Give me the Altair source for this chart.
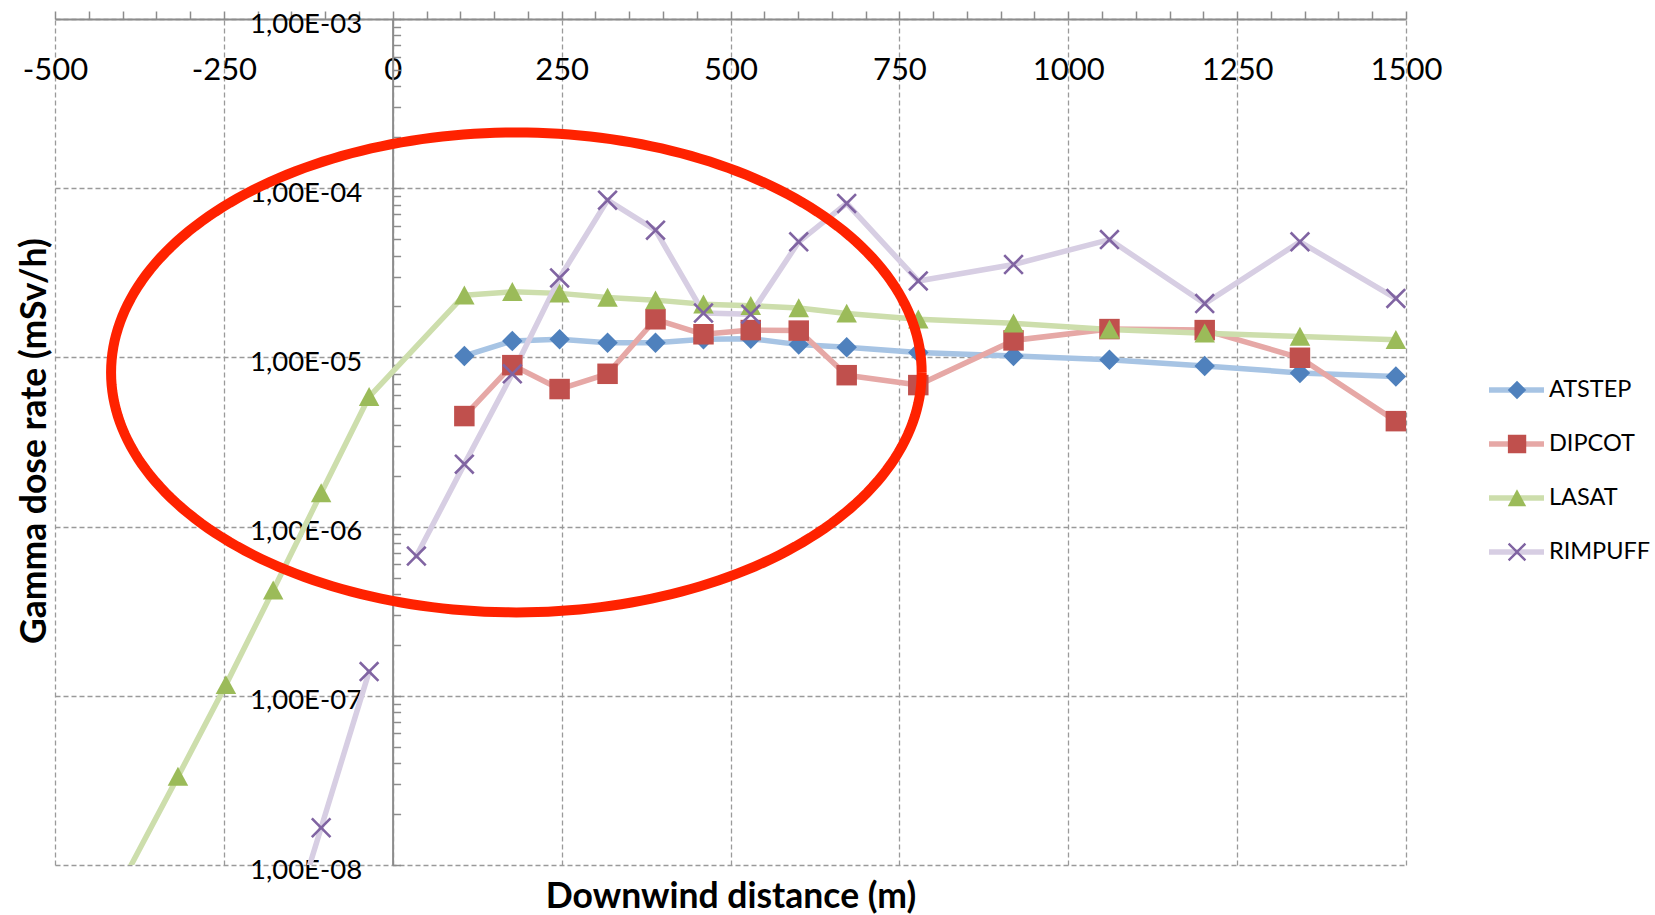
import altair as alt
import pandas as pd
import numpy as np

# ---------------- data ----------------
SERIES = ["ATSTEP", "DIPCOT", "LASAT", "RIMPUFF"]
MARKER_COLORS = ["#4F81BD", "#C0504D", "#9BBB59", "#8064A2"]
LINE_COLORS = ["#A7C4E4", "#E6A8A6", "#CDDEAC", "#D7CEE3"]
LINE_WIDTHS = [5.5, 5.5, 5.5, 7]
MARKER_SIZES = [420, 420, 480, 420]

ATSTEP_X = [106, 177, 247, 318, 389, 460, 530, 601, 672, 778, 919, 1061, 1202, 1343, 1485]
ATSTEP_Y = [1.02e-5, 1.25e-5, 1.28e-5, 1.22e-5, 1.22e-5, 1.28e-5, 1.29e-5, 1.19e-5,
            1.15e-5, 1.07e-5, 1.02e-5, 9.7e-6, 8.9e-6, 8.1e-6, 7.7e-6]

DIPCOT_X = [106, 177, 247, 318, 389, 460, 530, 601, 672, 778, 919, 1061, 1202, 1343, 1485]
DIPCOT_Y = [4.5e-6, 9.0e-6, 6.5e-6, 8.0e-6, 1.68e-5, 1.37e-5, 1.45e-5, 1.44e-5,
            7.85e-6, 6.86e-6, 1.26e-5, 1.47e-5, 1.45e-5, 9.95e-6, 4.2e-6]

LASAT_X = [-389, -318, -247, -177, -106, -35, 106, 177, 247, 318, 389, 460, 530, 601,
           672, 778, 919, 1061, 1202, 1343, 1485]
LASAT_Y = [9.7e-9, 3.33e-8, 1.16e-7, 4.21e-7, 1.58e-6, 5.85e-6, 2.33e-5, 2.44e-5, 2.39e-5,
           2.26e-5, 2.18e-5, 2.06e-5, 2.02e-5, 1.96e-5, 1.82e-5, 1.68e-5, 1.59e-5, 1.46e-5,
           1.39e-5, 1.33e-5, 1.27e-5]

RIMPUFF_X = [-177, -106, -35, 35, 106, 177, 247, 318, 389, 460, 530, 601, 672, 778, 919,
             1061, 1202, 1343, 1485]
RIMPUFF_Y = [2.0e-9, 1.66e-8, 1.39e-7, 6.7e-7, 2.34e-6, 8.0e-6, 2.95e-5, 8.5e-5, 5.65e-5,
             1.83e-5, 1.80e-5, 4.82e-5, 8.13e-5, 2.83e-5, 3.54e-5, 4.97e-5, 2.08e-5,
             4.82e-5, 2.23e-5]
RIMPUFF_PART = [0, 0, 0] + [1] * 16   # the line is broken between -35 m and 35 m

X_MAJOR = [-500, -250, 0, 250, 500, 750, 1000, 1250, 1500]
X_MINOR = list(range(-500, 1501, 50))
Y_MAJOR = [1e-8, 1e-7, 1e-6, 1e-5, 1e-4, 1e-3]
Y_MINOR = [m * 10.0 ** e for e in range(-8, -3) for m in range(1, 10)] + [1e-3]

# red annotation ellipse (centre / radii in data units, decades for y)
ELL_CX, ELL_RX = 183, 600
ELL_CLOG, ELL_RLOG = -5.089, 1.418

X_PATH = ("M-1,-0.82L-0.82,-1L0,-0.18L0.82,-1L1,-0.82L0.18,0L1,0.82L0.82,1"
          "L0,0.18L-0.82,1L-1,0.82L-0.18,0Z")
TRI_PATH = "M0,-0.95L1,0.9L-1,0.9Z"
SHAPES = ["diamond", "square", TRI_PATH, X_PATH]

rows = []
for name, xs_, ys_, parts in [
    ("ATSTEP", ATSTEP_X, ATSTEP_Y, [0] * len(ATSTEP_X)),
    ("DIPCOT", DIPCOT_X, DIPCOT_Y, [0] * len(DIPCOT_X)),
    ("LASAT", LASAT_X, LASAT_Y, [0] * len(LASAT_X)),
    ("RIMPUFF", RIMPUFF_X, RIMPUFF_Y, RIMPUFF_PART),
]:
    for xv, yv, p in zip(xs_, ys_, parts):
        rows.append({"series": name, "series2": name, "series3": name,
                     "x": xv, "y": yv, "part": p})
df = pd.DataFrame(rows)

t = np.linspace(0, 2 * np.pi, 241)
ell = pd.DataFrame({
    "ex": ELL_CX + ELL_RX * np.cos(t),
    "ey": 10 ** (ELL_CLOG + ELL_RLOG * np.sin(t)),
    "i": np.arange(len(t)),
})

# ---------------- styling ----------------
AXIS_GRAY = "#8C8C8C"
GRID_GRAY = "#9A9A9A"
FONT = "Lato"

xs = alt.Scale(domain=[-500, 1500], nice=False, zero=False)
ys = alt.Scale(type="log", domain=[1e-8, 1e-3], nice=False)

axis_x_major = alt.Axis(orient="top", values=X_MAJOR, labelExpr="'' + datum.value",
                        labelFlush=False, labelPadding=-51, labelBaseline="middle",
                        labelFontSize=31, labelColor="black", labelOverlap=False,
                        ticks=False, domain=True, domainColor=AXIS_GRAY, domainWidth=2,
                        grid=True, gridColor=GRID_GRAY, gridDash=[5, 3], gridWidth=1.3,
                        title=None)
axis_x_minor = alt.Axis(orient="top", values=X_MINOR, labels=False, ticks=True, tickSize=8,
                        tickColor=AXIS_GRAY, tickWidth=1.5, domain=False, grid=False,
                        title=None)
axis_x_title = alt.Axis(orient="bottom", labels=False, ticks=False, domain=False, grid=False,
                        title="Downwind distance (m)", titleFontSize=35.5,
                        titleFontWeight="bold", titleColor="black", titleX=675.5,
                        titleY=31, titleBaseline="middle", titleAlign="center")

axis_y_major = alt.Axis(orient="left", offset=-337.6, values=Y_MAJOR,
                        labelExpr="'1,00E-0' + (-round(log(datum.value) / LN10))",
                        labelFontSize=27.5, labelPadding=31, labelOffset=5,
                        labelBaseline="middle", labelColor="black", labelOverlap=False,
                        ticks=False, domain=True, domainColor=AXIS_GRAY, domainWidth=2,
                        grid=True, gridColor=GRID_GRAY, gridDash=[5, 3], gridWidth=1.3,
                        title=None)
axis_y_minor = alt.Axis(orient="right", offset=-1013.4, values=Y_MINOR, labels=False,
                        ticks=True, tickSize=8, tickColor=AXIS_GRAY, tickWidth=1.5,
                        domain=False, grid=False, title=None)
axis_y_title = alt.Axis(orient="left", labels=False, ticks=False, domain=False, grid=False,
                        title="Gamma dose rate (mSv/h)", titleFontSize=35.5,
                        titleFontWeight="bold", titleColor="black", titleX=-21,
                        titleY=421.7, titleAngle=270, titleBaseline="middle",
                        titleAlign="center")

legend_lines = alt.Legend(orient="none", legendX=1431, legendY=344.35, title=None,
                          symbolType="stroke", symbolSize=3025, symbolStrokeWidth=5.5,
                          clipHeight=53.3, rowPadding=0, labelOffset=2, labelFontSize=23.5,
                          labelColor="black", padding=0)
# marker-only legend overlaid on the line legend (its labels are empty strings)
legend_marks = alt.Legend(orient="none", legendX=1452.5, legendY=344.35, title=None,
                          symbolSize=340, symbolStrokeWidth=0, clipHeight=53.3,
                          rowPadding=0, labelFontSize=10, labelExpr="''", padding=0)

lines = alt.Chart(df).mark_line(clip=True, strokeCap="round", strokeJoin="round").encode(
    x=alt.X("x:Q", scale=xs, axis=axis_x_major),
    y=alt.Y("y:Q", scale=ys, axis=axis_y_major),
    color=alt.Color("series:N", scale=alt.Scale(range=LINE_COLORS), legend=legend_lines),
    strokeWidth=alt.StrokeWidth("series3:N", scale=alt.Scale(range=LINE_WIDTHS),
                                legend=None),
    detail="part:N",
)

points = alt.Chart(df).transform_filter("datum.y >= 1e-8").mark_point(
    filled=True, opacity=1, strokeWidth=0).encode(
    x=alt.X("x:Q", scale=xs, axis=axis_x_minor),
    y=alt.Y("y:Q", scale=ys, axis=axis_y_minor),
    fill=alt.Fill("series2:N", scale=alt.Scale(domain=SERIES, range=MARKER_COLORS),
                  legend=legend_marks),
    shape=alt.Shape("series2:N", scale=alt.Scale(domain=SERIES, range=SHAPES),
                    legend=legend_marks),
    size=alt.Size("series3:N", scale=alt.Scale(range=MARKER_SIZES), legend=None),
)

ellipse = alt.Chart(ell).mark_line(color="#FF2200", strokeWidth=10).encode(
    x=alt.X("ex:Q", scale=xs, axis=axis_x_title),
    y=alt.Y("ey:Q", scale=ys, axis=axis_y_title),
    order="i:Q",
)

chart = alt.layer(lines, points, ellipse).resolve_scale(
    x="shared", y="shared"
).resolve_axis(
    x="independent", y="independent"
).properties(
    width=1351, height=846,
    autosize=alt.AutoSizeParams(type="none"),
    padding={"left": 55, "top": 19, "right": 249, "bottom": 50},
    background="white",
).configure(font=FONT).configure_view(strokeWidth=0)

chart.save("out.html", embed_options={"renderer": "svg", "actions": False})
